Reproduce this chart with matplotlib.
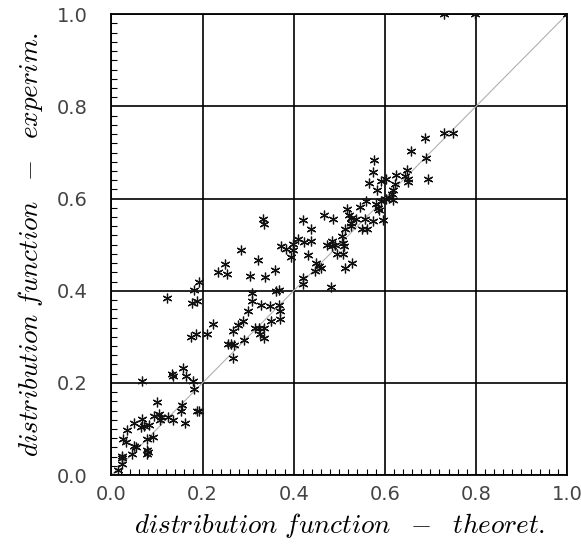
import numpy as np
import matplotlib
matplotlib.use("Agg")
import matplotlib.pyplot as plt
from matplotlib.ticker import MultipleLocator

plt.rcParams["mathtext.fontset"] = "cm"

# theoretical distribution function (x) vs experimental (y)
theoret = [
    0.022, 0.024, 0.022, 0.014, 0.046, 0.049, 0.054, 0.025, 0.031, 0.035,
    0.049, 0.068, 0.064, 0.072, 0.083, 0.077, 0.092, 0.079, 0.081, 0.079,
    0.093, 0.104, 0.106, 0.108, 0.124, 0.134, 0.101, 0.154, 0.153, 0.188,
    0.193, 0.162, 0.068, 0.132, 0.134, 0.158, 0.163, 0.180, 0.181, 0.121,
    0.176, 0.187, 0.192, 0.182, 0.175, 0.186, 0.210, 0.223, 0.266, 0.256,
    0.263, 0.270, 0.266, 0.278, 0.288, 0.290, 0.314, 0.323, 0.334, 0.325,
    0.335, 0.350, 0.370, 0.370, 0.299, 0.308, 0.308, 0.329, 0.348, 0.367,
    0.362, 0.368, 0.233, 0.254, 0.250, 0.284, 0.322, 0.304, 0.338, 0.360,
    0.333, 0.334, 0.373, 0.383, 0.398, 0.399, 0.393, 0.409, 0.422, 0.439,
    0.420, 0.439, 0.432, 0.450, 0.456, 0.461, 0.446, 0.420, 0.420, 0.481,
    0.474, 0.485, 0.490, 0.485, 0.496, 0.508, 0.512, 0.529, 0.507, 0.509,
    0.511, 0.512, 0.525, 0.467, 0.487, 0.516, 0.522, 0.525, 0.525, 0.537,
    0.556, 0.549, 0.562, 0.574, 0.597, 0.545, 0.558, 0.580, 0.584, 0.587,
    0.591, 0.602, 0.610, 0.619, 0.615, 0.582, 0.566, 0.592, 0.602, 0.622,
    0.617, 0.576, 0.575, 0.624, 0.648, 0.645, 0.651, 0.651, 0.695, 0.657,
    0.690, 0.688, 0.730, 0.749, 0.729, 0.797, 1.000,
]
experim = [
    0.041, 0.036, 0.025, 0.011, 0.045, 0.063, 0.060, 0.078, 0.072, 0.097,
    0.112, 0.121, 0.104, 0.106, 0.109, 0.078, 0.083, 0.055, 0.050, 0.045,
    0.128, 0.132, 0.120, 0.127, 0.125, 0.119, 0.159, 0.153, 0.138, 0.140,
    0.138, 0.112, 0.205, 0.220, 0.214, 0.233, 0.214, 0.204, 0.186, 0.385,
    0.374, 0.378, 0.420, 0.402, 0.299, 0.306, 0.306, 0.328, 0.253, 0.284,
    0.285, 0.283, 0.313, 0.325, 0.334, 0.293, 0.319, 0.319, 0.320, 0.307,
    0.297, 0.335, 0.338, 0.357, 0.357, 0.378, 0.396, 0.368, 0.367, 0.368,
    0.400, 0.401, 0.441, 0.436, 0.458, 0.488, 0.466, 0.431, 0.429, 0.446,
    0.556, 0.544, 0.497, 0.490, 0.502, 0.488, 0.473, 0.512, 0.505, 0.507,
    0.554, 0.533, 0.478, 0.460, 0.454, 0.449, 0.442, 0.427, 0.415, 0.409,
    0.500, 0.508, 0.499, 0.496, 0.480, 0.480, 0.450, 0.460, 0.519, 0.503,
    0.496, 0.535, 0.540, 0.565, 0.556, 0.578, 0.564, 0.557, 0.547, 0.555,
    0.555, 0.533, 0.534, 0.552, 0.554, 0.581, 0.594, 0.589, 0.580, 0.575,
    0.595, 0.598, 0.602, 0.597, 0.611, 0.619, 0.634, 0.638, 0.643, 0.632,
    0.619, 0.683, 0.658, 0.652, 0.663, 0.649, 0.642, 0.635, 0.643, 0.704,
    0.689, 0.732, 0.742, 0.743, 1.000, 1.000, 1.000,
]

fig = plt.figure(figsize=(5.81, 5.45), dpi=100)
ax = fig.add_axes([0.1919, 0.1284, 0.7840, 0.8454])

ax.plot([0, 1], [0, 1], color="#b0b0b0", linewidth=0.8, zorder=2)
ax.plot(theoret, experim, linestyle="none", marker=(6, 2, 0),
        markersize=7, markeredgewidth=0.9, color="#111111", zorder=3)

ax.set_xlim(0, 1)
ax.set_ylim(0, 1)
ax.xaxis.set_major_locator(MultipleLocator(0.2))
ax.yaxis.set_major_locator(MultipleLocator(0.2))
ax.xaxis.set_minor_locator(MultipleLocator(0.02))
ax.yaxis.set_minor_locator(MultipleLocator(0.02))
ax.tick_params(which="both", direction="in", top=False, right=False,
               color="black")
ax.tick_params(which="major", length=0, width=1.2, labelsize=14,
               labelcolor="#444444")
ax.tick_params(axis="x", which="major", pad=7)
ax.tick_params(axis="y", which="major", pad=17)
ax.tick_params(which="minor", length=4, width=0.8)
ax.grid(which="major", color="black", linewidth=1.2, zorder=1)
for s in ax.spines.values():
    s.set_linewidth(1.3)
    s.set_color("black")

ax.set_xlabel(r"$distribution\ function\ \ -\ \ theoret.$", fontsize=19.5,
              labelpad=5)
ax.set_ylabel(r"$distribution\ function\ \ -\ \ experim.$", fontsize=19.5,
              labelpad=9)

fig.savefig("out.png", dpi=100)
